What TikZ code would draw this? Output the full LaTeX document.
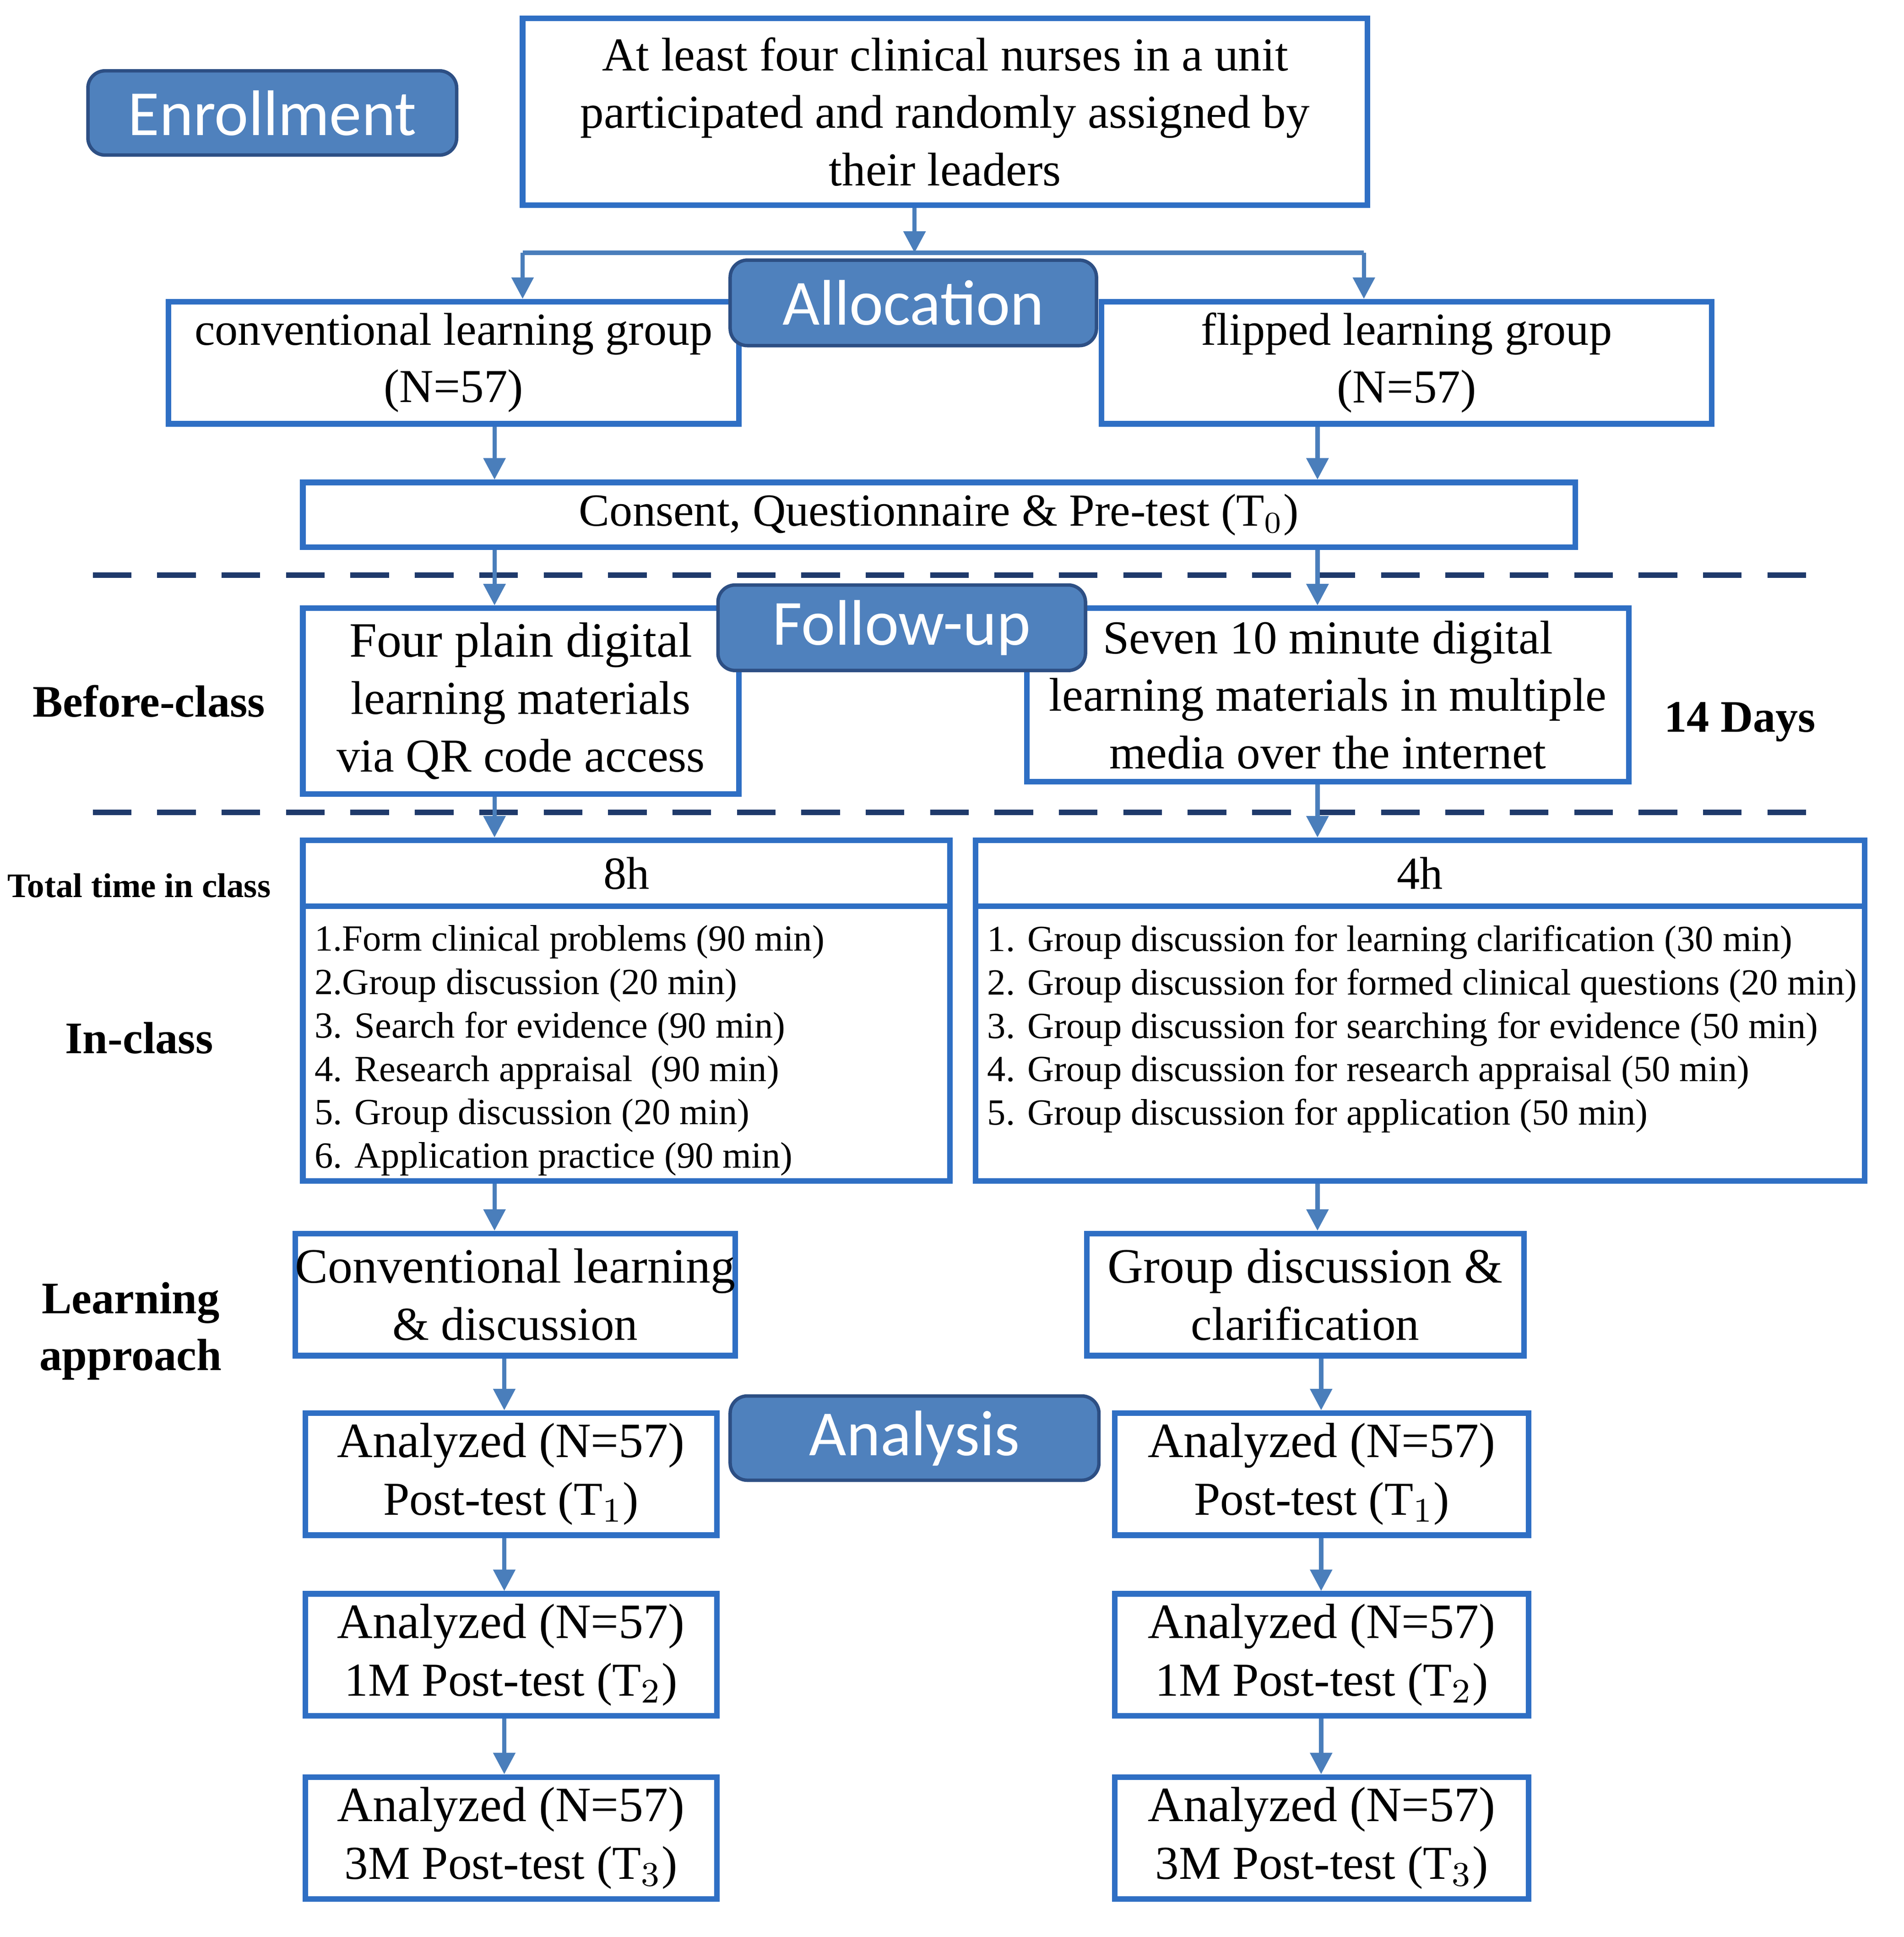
\documentclass[tikz,border=0pt]{standalone}
\usepackage{fontspec}
\setmainfont{Liberation Serif}
\newfontfamily\lab{Carlito}
\usetikzlibrary{arrows.meta}
\definecolor{bl}{HTML}{2F6FC4}
\definecolor{ar}{HTML}{4A7EBB}
\definecolor{lf}{HTML}{4F81BD}
\definecolor{dk}{HTML}{1F3A6B}
\begin{document}
\begin{tikzpicture}[x=0.01cm,y=-0.01cm,
 box/.style={draw=bl,line width=1.3pt,inner sep=0pt,align=center,font=\fontsize{11}{13.4}\selectfont},
 lbl/.style={draw=dk!70!lf,fill=lf,rounded corners=4pt,line width=0.8pt,text=white,inner sep=0pt,font=\lab\fontsize{15}{18}\selectfont},
 arr/.style={draw=ar,line width=1pt,-{Triangle[length=5pt,width=5pt]}},
 side/.style={font=\bfseries\fontsize{10.5}{13.2}\selectfont,align=center},
 big/.style={font=\fontsize{11.5}{12.8}\selectfont},
 lst/.style={anchor=north west,align=left,inner sep=0pt,font=\fontsize{8.6}{10.1}\selectfont}]
\useasboundingbox (0,0) rectangle (1559,1586);
\newcommand\bx[6]{\node[box,minimum width={(#4-#2)*0.01cm},minimum height={(#5-#3)*0.01cm}] (#1) at ({(#2+#4)/2},{(#3+#5)/2}) {#6};}
\newcommand\lb[6]{\node[lbl,minimum width={(#4-#2)*0.01cm},minimum height={(#5-#3)*0.01cm}] (#1) at ({(#2+#4)/2},{(#3+#5)/2}) {#6};}
\bx{top}{428}{15}{1120}{168}{At least four clinical nurses in a unit\\participated and randomly assigned by\\their leaders}
\lb{enr}{72}{58}{374}{127}{Enrollment}
\bx{conv}{138}{247}{605}{347}{\fontsize{10.7}{12.5}\selectfont conventional learning group\\(N=57)}
\bx{flip}{902}{247}{1402}{347}{\fontsize{10.7}{12.5}\selectfont flipped learning group\\(N=57)}
\coordinate (tb) at (749,207);
\coordinate (tl) at (428,207);
\coordinate (tr) at (1117,207);
\draw[arr] (top.south -| tb) -- (tb);
\draw[draw=ar,line width=1pt] (tl) -- (tr);
\draw[arr] (tl) -- (tl |- conv.north);
\draw[arr] (tr) -- (tr |- flip.north);
\lb{all}{598}{213}{898}{283}{Allocation}
\bx{cons}{248}{395}{1290}{448}{\fontsize{10.7}{12.5}\selectfont Consent, Questionnaire \& Pre-test (T$_0$)}
\coordinate (lx) at (405,0); \coordinate (rx) at (1079,0);
\draw[arr] (conv.south -| lx) -- (cons.north -| lx);
\draw[arr] (flip.south -| rx) -- (cons.north -| rx);
\coordinate (d1a) at (76,471); \coordinate (d1b) at (1488,471);
\coordinate (d2a) at (76,665); \coordinate (d2b) at (1488,665);
\draw[dk,line width=1.3pt,dash pattern=on 9pt off 6pt] (d1a) -- (d1b);
\draw[dk,line width=1.3pt,dash pattern=on 9pt off 6pt] (d2a) -- (d2b);
\bx{four}{248}{498}{605}{650}{\fontsize{11.5}{13.6}\selectfont Four plain digital\\learning materials\\via QR code access}
\bx{seven}{841}{498}{1334}{640}{\fontsize{11}{12.6}\selectfont Seven 10 minute digital\\learning materials in multiple\\media over the internet}
\draw[arr] (cons.south -| lx) -- (four.north -| lx);
\draw[arr] (cons.south -| rx) -- (seven.north -| rx);
\lb{fol}{588}{479}{889}{549}{Follow-up}
\node[side] (bc) at (122,574) {Before-class};
\node[side] (fd) at (1425,591) {14 Days};
\bx{lh}{248}{688}{778}{742}{\fontsize{10.7}{12.5}\selectfont 8h}
\bx{lb}{248}{742}{778}{967}{}
\bx{rh}{799}{688}{1527}{742}{\fontsize{10.7}{12.5}\selectfont 4h}
\bx{rb}{799}{742}{1527}{967}{}
\draw[arr] (four.south -| lx) -- (lh.north -| lx);
\draw[arr] (seven.south -| rx) -- (rh.north -| rx);
\node[lst] (ll) at (257,757) {1.Form clinical problems (90 min)\\2.Group discussion (20 min)\\3. Search for evidence (90 min)\\4. Research appraisal \ (90 min)\\5. Group discussion (20 min)\\6. Application practice (90 min)};
\node[lst] (rl) at (808,757) {1. Group discussion for learning clarification (30 min)\\2. Group discussion for formed clinical questions (20 min)\\3. Group discussion for searching for evidence (50 min)\\4. Group discussion for research appraisal (50 min)\\5. Group discussion for application (50 min)};
\node[side,font=\bfseries\fontsize{8}{10}\selectfont] (tt) at (114,725) {Total time in class};
\node[side] (ic) at (114,850) {In-class};
\bx{cl}{243}{1010}{601}{1110}{\fontsize{11.5}{12.8}\selectfont Conventional learning\\\& discussion}
\bx{gd}{890}{1010}{1248}{1110}{\fontsize{11.5}{12.8}\selectfont Group discussion \&\\clarification}
\draw[arr] (lb.south -| lx) -- (cl.north -| lx);
\draw[arr] (rb.south -| rx) -- (gd.north -| rx);
\node[side] (la) at (107,1090) {Learning\\approach};
\coordinate (lx2) at (413,0); \coordinate (rx2) at (1082,0);
\bx{a1}{250}{1157}{587}{1257}{\fontsize{11.5}{12.8}\selectfont Analyzed (N=57)\\Post-test (T$_1$)}
\bx{a2}{250}{1305}{587}{1405}{\fontsize{11.5}{12.8}\selectfont Analyzed (N=57)\\1M Post-test (T$_2$)}
\bx{a3}{250}{1455}{587}{1555}{\fontsize{11.5}{12.8}\selectfont Analyzed (N=57)\\3M Post-test (T$_3$)}
\bx{b1}{913}{1157}{1252}{1257}{\fontsize{11.5}{12.8}\selectfont Analyzed (N=57)\\Post-test (T$_1$)}
\bx{b2}{913}{1305}{1252}{1405}{\fontsize{11.5}{12.8}\selectfont Analyzed (N=57)\\1M Post-test (T$_2$)}
\bx{b3}{913}{1455}{1252}{1555}{\fontsize{11.5}{12.8}\selectfont Analyzed (N=57)\\3M Post-test (T$_3$)}
\draw[arr] (cl.south -| lx2) -- (a1.north -| lx2);
\draw[arr] (a1.south -| lx2) -- (a2.north -| lx2);
\draw[arr] (a2.south -| lx2) -- (a3.north -| lx2);
\draw[arr] (gd.south -| rx2) -- (b1.north -| rx2);
\draw[arr] (b1.south -| rx2) -- (b2.north -| rx2);
\draw[arr] (b2.south -| rx2) -- (b3.north -| rx2);
\lb{ana}{598}{1143}{900}{1212}{Analysis}
\end{tikzpicture}
\end{document}
